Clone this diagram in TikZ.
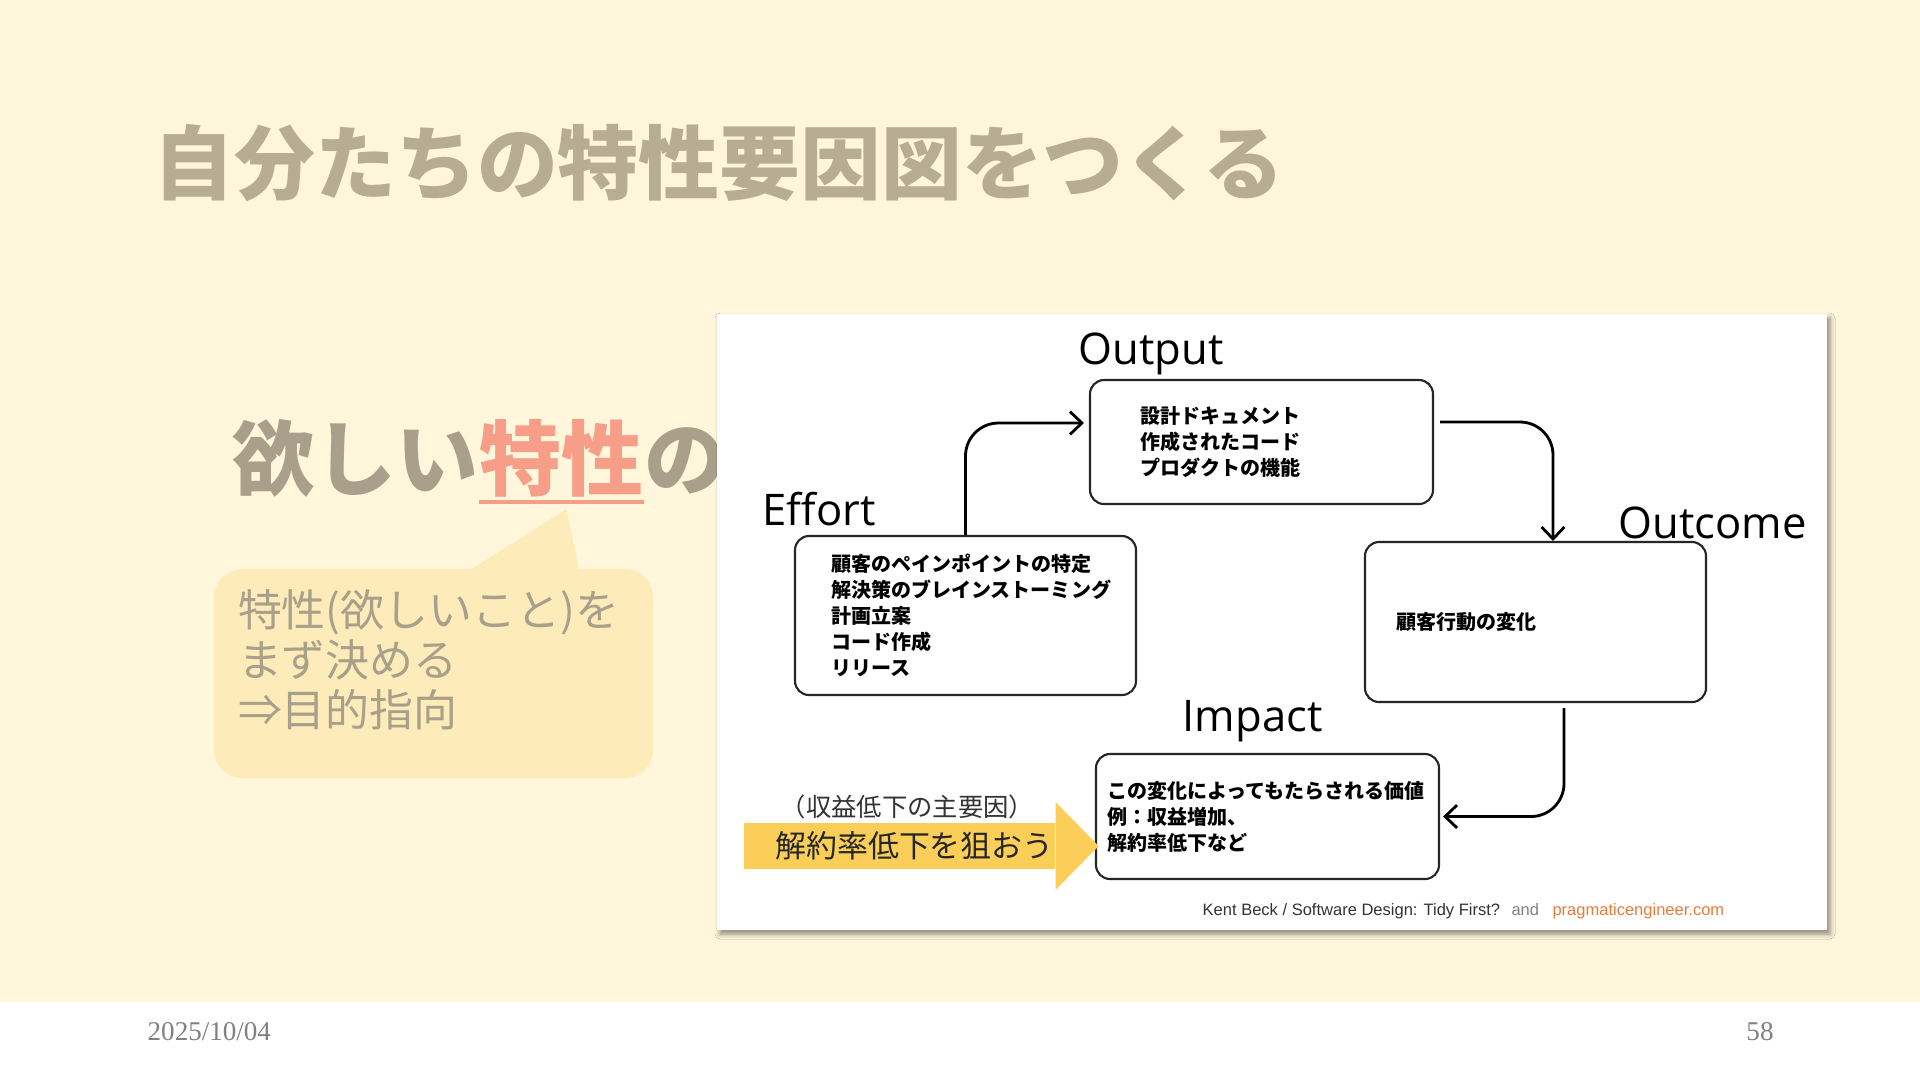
\documentclass[tikz,border=0pt]{standalone}
\usepackage{fontspec}
\setmainfont{Liberation Serif}
\newfontfamily\jpfont{Noto Sans CJK JP}
\newfontfamily\handfont{Open Sans}
\newfontfamily\creditfont{Liberation Sans}
\usepackage{xcolor}
\usepackage{tikz}
\usetikzlibrary{arrows.meta,positioning,shadows.blur}
\definecolor{PageBg}{RGB}{255,246,220}
\definecolor{TitleGray}{RGB}{184,173,147}
\definecolor{SoftGray}{RGB}{168,160,138}
\definecolor{Salmon}{RGB}{247,158,136}
\definecolor{BubbleBg}{RGB}{253,236,186}
\definecolor{GoalYellow}{RGB}{250,206,88}
\definecolor{SiteOrange}{RGB}{230,125,60}
\definecolor{FootGray}{RGB}{128,128,128}
\tikzset{
  stepbox/.style={draw=black!85,line width=0.6pt,rounded corners=1.4mm,fill=white,
                  align=left,inner ysep=0pt,
                  font=\jpfont\bfseries\fontsize{5.7}{7.4}\selectfont},
  phase/.style={inner sep=0pt,anchor=base west,
                font=\handfont\fontsize{12.4}{14}\selectfont},
  flow/.style={-{Straight Barb[length=3.4pt,width=6.5pt]},line width=0.8pt,
               rounded corners=3.3mm},
  wish/.style={inner sep=0pt,text=SoftGray,
               font=\jpfont\bfseries\fontsize{23.3}{26}\selectfont},
  bubbletext/.style={inner sep=0pt,align=left,text=SoftGray,
                     font=\jpfont\fontsize{12.5}{14.2}\selectfont},
  credit/.style={inner sep=0pt,text=black!80,
                 font=\creditfont\fontsize{4.7}{5.6}\selectfont},
  foot/.style={inner sep=0pt,text=FootGray,font=\fontsize{7.7}{9}\selectfont},
}

\begin{document}
\begin{tikzpicture}[x=0.1mm,y=-0.1mm]
  \useasboundingbox (0,0) rectangle (1920,1080);
  \fill[PageBg] (0,0) rectangle (1920,1002);
  \fill[white] (0,1002) rectangle (1920,1080);

  % slide title
  \node[inner sep=0pt,anchor=west,text=TitleGray,
        font=\jpfont\bfseries\fontsize{23}{26}\selectfont] (title) at (153,163)
        {自分たちの特性要因図をつくる};

  % left message, partly hidden by the screenshot
  \node[wish,anchor=base west] (wishA) at (232,489) {欲しい};
  \node[wish,text=Salmon,base right=0pt of wishA] (wishB) {特性};
  \node[wish,base right=0pt of wishB] (wishC) {の};
  \draw[Salmon,line width=1.1pt] ([yshift=-1.3mm]wishB.base west) -- ([yshift=-1.3mm]wishB.base east);

  % speech bubble
  \node[fill=BubbleBg,rounded corners=2.8mm,minimum width=43.9mm,minimum height=20.9mm,
        inner sep=0pt] (bub) at (433.5,673.5) {};
  \fill[BubbleBg] ([xshift=25.6mm,yshift=-0.2mm]bub.north west) -- ([xshift=35.3mm,yshift=5.9mm]bub.north west)
                  -- ([xshift=36.6mm,yshift=-0.2mm]bub.north west) -- cycle;
  \node[bubbletext,below right=2.1mm and 2.4mm of bub.north west,anchor=north west] (bubtxt)
        {特性(欲しいこと)を\\まず決める\\⇒目的指向};

  % screenshot panel
  \node[fill=white,minimum width=111mm,minimum height=61.6mm,inner sep=0pt,
        blur shadow={shadow xshift=0.3mm,shadow yshift=-0.4mm,shadow blur radius=0.5mm,shadow opacity=45}]
        (shot) at (1272,622) {};

  % the four boxes
  \node[stepbox,text width=24.3mm,inner xsep=5mm,minimum height=12.4mm] (outbox) at (1261.5,442)
        {設計ドキュメント\\作成されたコード\\プロダクトの機能};
  \node[stepbox,text width=26.9mm,inner xsep=3.6mm,minimum height=15.9mm] (effbox) at (965.5,615.5)
        {顧客のペインポイントの特定\\解決策のブレインストーミング\\計画立案\\コード作成\\リリース};
  \node[stepbox,text width=27.9mm,inner xsep=3.1mm,minimum height=16mm] (ocbox) at (1535.5,622)
        {顧客行動の変化};
  \node[stepbox,text width=32.1mm,inner xsep=1.1mm,minimum height=12.5mm] (impbox) at (1267.5,816.5)
        {この変化によってもたらされる価値\\例：収益増加、\\解約率低下など};

  % phase labels
  \node[phase] (outlbl) at ([xshift=-1.1mm,yshift=1.4mm]outbox.north west) {Output};
  \node[phase] (efflbl) at ([xshift=-3.2mm,yshift=0.9mm]effbox.north west) {Effort};
  \node[phase] (oclbl) at ([xshift=25.4mm,yshift=0.2mm]ocbox.north west) {Outcome};
  \node[phase] (implbl) at ([xshift=8.7mm,yshift=2.1mm]impbox.north west) {Impact};

  % cycle
  \draw[flow,shorten >=0.5mm] (effbox.north) |- ([yshift=1.9mm]outbox.west);
  \draw[flow,shorten <=0.6mm] ([yshift=2mm]outbox.east) -| ([xshift=1.75mm]ocbox.north);
  \draw[flow,shorten <=0.5mm,shorten >=0.3mm] ([xshift=2.85mm]ocbox.south) |- (impbox.east);

  % goal arrow
  \node[fill=GoalYellow,minimum width=31.1mm,minimum height=4.6mm,inner sep=0pt,text=black!85,
        font=\jpfont\fontsize{8.8}{10}\selectfont] (goal) at (899.5,846) {\hspace*{3mm}解約率低下を狙おう};
  \fill[GoalYellow] ([yshift=2mm]goal.north east) -- ([xshift=4.3mm]goal.east)
                    -- ([yshift=-2mm]goal.south east) -- cycle;
  \node[inner sep=0pt,text=black!80,font=\jpfont\fontsize{7.2}{8}\selectfont,
        above=0.3mm of goal,xshift=0.8mm] (cause) {（収益低下の主要因）};

  % source line
  \node[credit,anchor=base west] (src) at (1202,915) {Kent Beck / Software Design: Tidy First?};
  \node[credit,text=FootGray,base right=1mm of src] (srcand) {and};
  \node[credit,text=SiteOrange,base right=1.2mm of srcand] (site) {pragmaticengineer.com};

  % footer
  \node[foot,anchor=west] (date) at (147,1032) {2025/10/04};
  \node[foot] (page) at (1760,1032) {58};
\end{tikzpicture}
\end{document}
